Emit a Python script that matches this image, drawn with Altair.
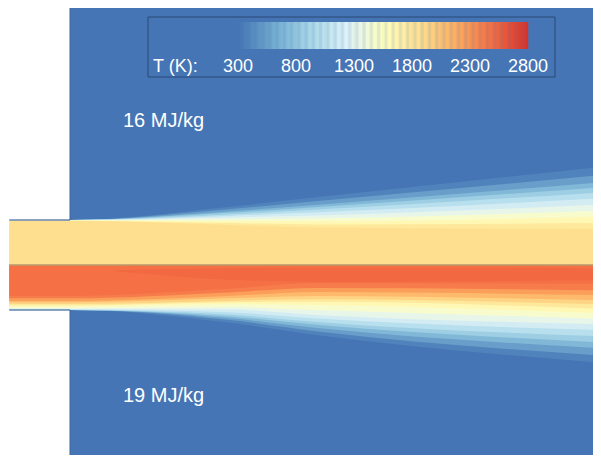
import altair as alt
import pandas as pd

# ---------------- data (mm, K) ----------------
X_MIN, X_MAX = -13.78, 116.22
Y_MIN, Y_MAX = -42.23, 57.1
NOZZLE_START = -13.5
NOZZLE_HALF = 10.0
AMBIENT_T = 300

stations = [0, 35, 55, 116.2]

# upper stream (16 MJ/kg): isotherm heights (mm) at each station
upper_levels = [1862, 1700, 1550, 1400, 1237, 1080, 925, 770, 612, 450, 300]
upper_y_0 = [9.8, 9.85, 9.9, 9.92, 9.95, 9.97, 10.0, 10.0, 10.0, 10.0, 10.0]
upper_y_35 = [8.9, 9.3, 9.7, 10.1, 10.5, 10.9, 11.2, 11.6, 11.9, 12.4, 12.9]
upper_y_55 = [8.3, 9.0, 9.7, 10.3, 11.0, 11.7, 12.3, 12.9, 13.4, 14.2, 15.1]
upper_y_out = [8.0, 9.3, 10.7, 12.0, 13.3, 14.7, 16.0, 17.1, 18.2, 19.8, 21.6]
upper_core_T = 1870

# lower stream (19 MJ/kg)
lower_levels = [2487, 2330, 2175, 2020, 1862, 1700, 1550, 1400, 1237, 1080, 925, 770, 612, 450, 300]
lower_y_0 = [-6.9, -7.4, -8.0, -8.3, -8.7, -9.0, -9.3, -9.6, -9.8, -9.9, -10.0, -10.0, -10.0, -10.0, -10.0]
lower_y_35 = [-5.3, -6.1, -6.9, -7.4, -8.0, -8.3, -8.7, -9.4, -9.9, -10.5, -11.0, -11.4, -11.8, -12.2, -12.8]
lower_y_55 = [-4.0, -5.1, -6.0, -6.9, -7.6, -8.2, -8.9, -10.0, -11.1, -11.9, -12.7, -13.3, -14.0, -14.8, -15.6]
lower_y_out = [-4.2, -5.6, -6.7, -7.8, -8.7, -9.7, -10.7, -11.9, -13.1, -14.4, -15.8, -17.1, -18.4, -20.0, -21.6]
lower_core_T = 2470

# hotter streak inside the lower stream
hot_x = [10, 30, 60, 90, 116.2]
hot_top = [-1.2, -0.8, -0.6, -0.6, -0.8]
hot_bot = [-1.4, -3.0, -3.8, -3.6, -3.4]
hot_T = 2560

cbar_ticks = [300, 800, 1300, 1800, 2300, 2800]
cbar_divs = [550, 800, 1050, 1300, 1550, 1800, 2050, 2300, 2550]
scheme_T = [300, 612.5, 925, 1237.5, 1550, 1862.5, 2175, 2487.5, 2800]
scheme_colors = ["#4575b4", "#74add1", "#abd9e9", "#e0f3f8", "#ffffbf",
                 "#fee090", "#fdae61", "#f46d43", "#d73027"]
stream_labels = ["16 MJ/kg", "19 MJ/kg"]
cbar_title = "T (K):"

# ---------------- scales ----------------
xs = alt.Scale(domain=[X_MIN, X_MAX], nice=False, zero=False)
ys = alt.Scale(domain=[Y_MIN, Y_MAX], nice=False, zero=False)
cs = alt.Scale(domain=scheme_T, range=scheme_colors, interpolate="rgb")
FONT = "Liberation Sans"


# ---------------- filled isotherm bands (painter's order: outer first) ----------------
def stream_layers(levels, profiles, core_T):
    xs_all = [NOZZLE_START] + stations
    profs = [profiles[0]] + profiles
    layers = []
    for j in range(len(levels) - 2, -1, -1):
        tm = (levels[j] + levels[j + 1]) / 2
        df = pd.DataFrame({"x": xs_all, "y": [0.0] * len(xs_all),
                           "y2": [p[j + 1] for p in profs], "T": tm})
        layers.append(df)
    df = pd.DataFrame({"x": xs_all, "y": [0.0] * len(xs_all),
                       "y2": [p[0] for p in profs], "T": core_T})
    layers.append(df)
    return layers


def area(df, opacity=1.0):
    return alt.Chart(df).mark_area(orient="vertical", interpolate="monotone", opacity=opacity).encode(
        x=alt.X("x:Q", scale=xs, axis=None),
        y=alt.Y("y:Q", scale=ys, axis=None), y2="y2",
        color=alt.Color("T:Q", scale=cs, legend=None))


upper_dfs = stream_layers(upper_levels, [upper_y_0, upper_y_35, upper_y_55, upper_y_out], upper_core_T)
lower_dfs = stream_layers(lower_levels, [lower_y_0, lower_y_35, lower_y_55, lower_y_out], lower_core_T)
band_charts = [area(d) for d in upper_dfs] + [area(d) for d in lower_dfs]

hot = pd.DataFrame({"x": hot_x, "y": hot_top, "y2": hot_bot, "T": hot_T})
hot_layer = area(hot, opacity=0.5)

field = pd.DataFrame({"x": [0], "x2": [X_MAX], "y": [Y_MIN], "y2": [Y_MAX], "T": [AMBIENT_T]})
walls = pd.DataFrame({"x": [NOZZLE_START] * 2, "x2": [0, 0], "y": [NOZZLE_HALF, -NOZZLE_HALF]})
splitter = pd.DataFrame({"x": [NOZZLE_START], "x2": [X_MAX], "y": [0.0]})
edge = pd.DataFrame({"x": [0, 0], "y": [NOZZLE_HALF, -NOZZLE_HALF], "y2": [Y_MAX, Y_MIN]})

bg = alt.Chart(field).mark_rect().encode(
    x=alt.X("x:Q", scale=xs, axis=None), x2="x2", y=alt.Y("y:Q", scale=ys, axis=None), y2="y2",
    color=alt.Color("T:Q", scale=cs, legend=None))

split_layer = alt.Chart(splitter).mark_rule(color="#b8976a", strokeWidth=1.4).encode(
    x=alt.X("x:Q", scale=xs, axis=None), x2="x2", y=alt.Y("y:Q", scale=ys, axis=None))

wall_layer = alt.Chart(walls).mark_rule(color="#6486b0", strokeWidth=1.5).encode(
    x=alt.X("x:Q", scale=xs, axis=None), x2="x2", y=alt.Y("y:Q", scale=ys, axis=None))

edge_layer = alt.Chart(edge).mark_rule(color="#3a64a0", strokeWidth=1).encode(
    x=alt.X("x:Q", scale=xs, axis=None), y=alt.Y("y:Q", scale=ys, axis=None), y2="y2")

txt_top = alt.Chart(pd.DataFrame({"label": [stream_labels[0]]})).mark_text(
    font=FONT, fontSize=20, color="white", align="left", baseline="middle").encode(
    x=alt.value(115), y=alt.value(113), text="label:N")
txt_bot = alt.Chart(pd.DataFrame({"label": [stream_labels[1]]})).mark_text(
    font=FONT, fontSize=20, color="white", align="left", baseline="middle").encode(
    x=alt.value(115), y=alt.value(388), text="label:N")

field_layers = alt.layer(bg, *band_charts, hot_layer, split_layer, wall_layer, edge_layer,
                         txt_top, txt_bot)

# ---------------- colour bar ----------------
cbx = alt.Scale(domain=[300, 2800], range=[230, 520], nice=False, zero=False)
cbar_cells = alt.Chart(alt.sequence(300, 2800, 10, as_="T")).transform_calculate(
    T2="datum.T + 12").mark_rect().encode(
    x=alt.X("T:Q", scale=cbx, axis=None), x2="T2:Q", y=alt.value(14), y2=alt.value(41),
    color=alt.Color("T:Q", scale=cs, legend=None))
cbar_lines = alt.Chart(pd.DataFrame({"T": cbar_divs})).mark_rule(color="#8a8a7a", opacity=0.12).encode(
    x=alt.X("T:Q", scale=cbx, axis=None), y=alt.value(14), y2=alt.value(41))
cbar_labels = alt.Chart(pd.DataFrame({"T": cbar_ticks})).mark_text(
    font=FONT, fontSize=18, color="white", align="center", baseline="middle").encode(
    x=alt.X("T:Q", scale=cbx, axis=None), y=alt.value(59), text=alt.Text("T:Q", format="d"))
cbar_title_l = alt.Chart(pd.DataFrame({"t": [cbar_title]})).mark_text(
    font=FONT, fontSize=18, color="white", align="left", baseline="middle").encode(
    x=alt.value(145), y=alt.value(59), text="t:N")
cbar_box = alt.Chart(pd.DataFrame({"a": [0]})).mark_rect(
    fillOpacity=0, stroke="#2a4a78", strokeWidth=1).encode(
    x=alt.value(140), x2=alt.value(547), y=alt.value(9), y2=alt.value(69))

cbar_layers = alt.layer(cbar_cells, cbar_lines, cbar_labels, cbar_title_l, cbar_box)

chart = alt.layer(field_layers, cbar_layers).resolve_scale(x="independent").properties(
    width=585, height=447, padding=0, autosize=alt.AutoSizeParams(type="none"),
    background="white"
).configure_view(stroke=None)

chart.save("out.html", embed_options={"renderer": "svg", "actions": False})
